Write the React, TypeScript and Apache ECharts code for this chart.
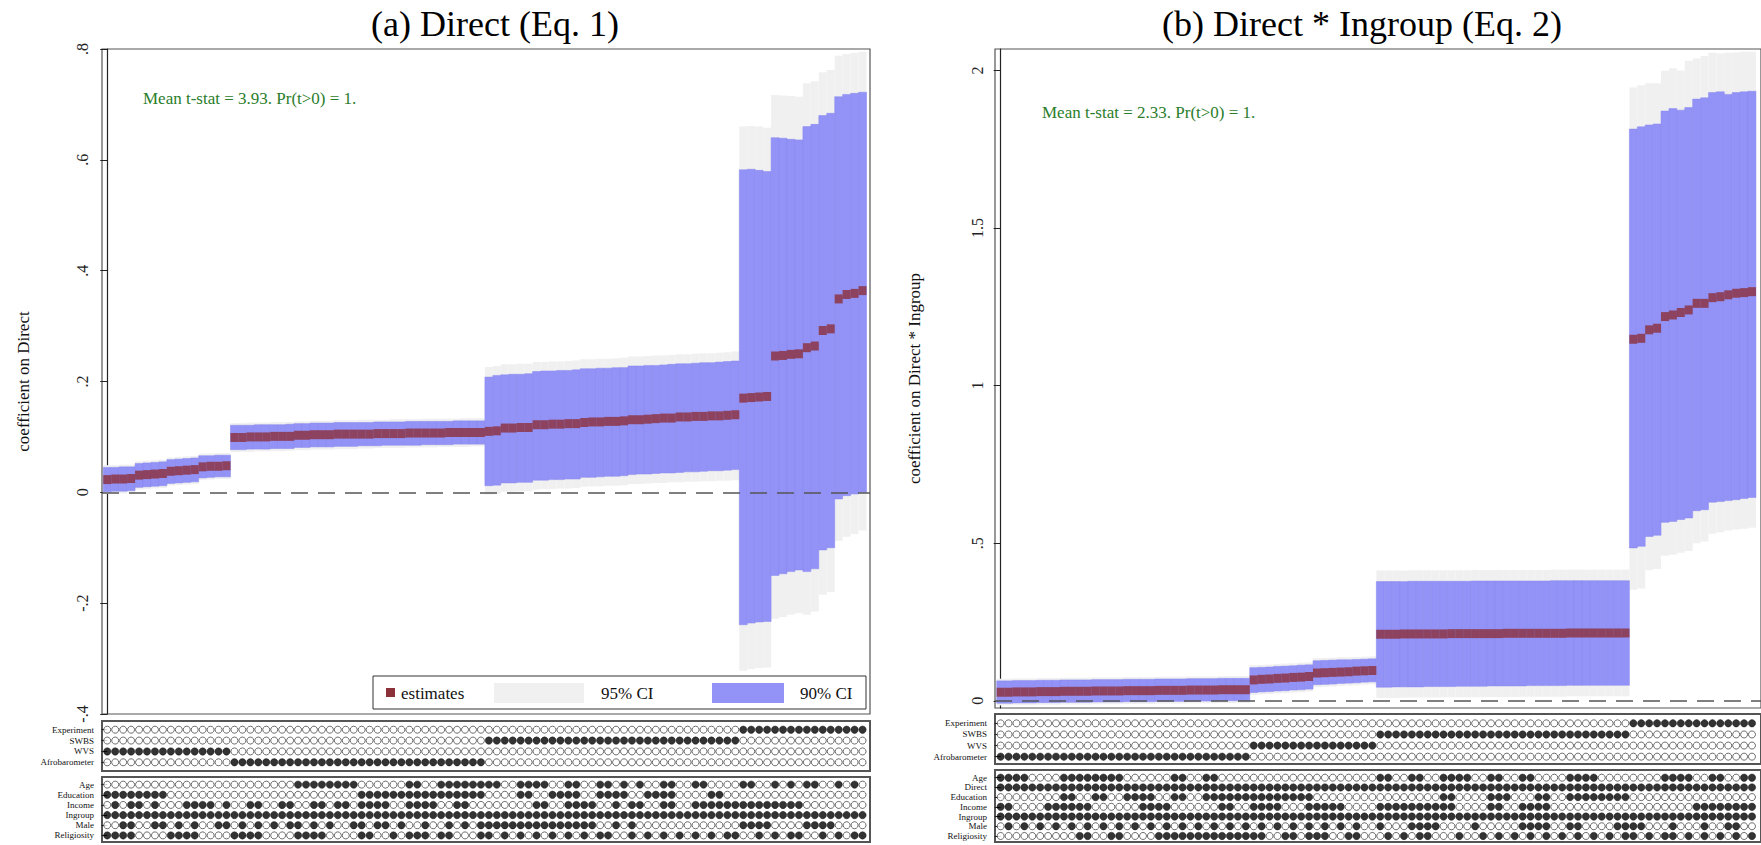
import React, { useEffect, useRef } from "react";
import * as echarts from "echarts";

const FONT = "'Liberation Serif', 'DejaVu Serif', serif";

// ---------------- Panel (a): Direct (Eq. 1) ----------------
const estA = [
  0.023, 0.024, 0.024, 0.025, 0.031, 0.032, 0.033, 0.034, 0.038, 0.039, 0.040, 0.041, 0.046, 0.047, 0.047, 0.048,
  0.099, 0.099, 0.100, 0.100, 0.100, 0.101, 0.101, 0.101, 0.103, 0.103, 0.104, 0.104, 0.104, 0.105, 0.105, 0.105,
  0.105, 0.105, 0.106, 0.106, 0.106, 0.106, 0.107, 0.107, 0.107, 0.107, 0.107, 0.108, 0.108, 0.108, 0.108, 0.108,
  0.110, 0.111, 0.116, 0.116, 0.117, 0.117, 0.122, 0.122, 0.123, 0.123, 0.124, 0.124, 0.126, 0.127, 0.127, 0.128,
  0.128, 0.129, 0.131, 0.131, 0.132, 0.133, 0.134, 0.134, 0.136, 0.136, 0.137, 0.137, 0.138, 0.138, 0.139, 0.140,
  0.170, 0.171, 0.172, 0.173, 0.246, 0.247, 0.249, 0.250, 0.261, 0.264, 0.292, 0.295, 0.349, 0.357, 0.359, 0.364,
];
const hi90A = [
  0.045, 0.045, 0.046, 0.046, 0.052, 0.053, 0.054, 0.055, 0.059, 0.060, 0.061, 0.062, 0.066, 0.066, 0.067, 0.067,
  0.121, 0.121, 0.121, 0.122, 0.122, 0.122, 0.122, 0.123, 0.124, 0.124, 0.125, 0.125, 0.125, 0.126, 0.126, 0.126,
  0.126, 0.126, 0.127, 0.127, 0.127, 0.127, 0.128, 0.128, 0.128, 0.128, 0.128, 0.128, 0.129, 0.129, 0.129, 0.129,
  0.208, 0.211, 0.212, 0.213, 0.213, 0.214, 0.218, 0.219, 0.219, 0.220, 0.220, 0.221, 0.223, 0.223, 0.224, 0.224,
  0.225, 0.225, 0.228, 0.228, 0.229, 0.229, 0.230, 0.231, 0.232, 0.232, 0.233, 0.234, 0.234, 0.235, 0.236, 0.237,
  0.582, 0.583, 0.581, 0.579, 0.640, 0.639, 0.637, 0.636, 0.660, 0.664, 0.680, 0.684, 0.714, 0.718, 0.720, 0.722,
];
const lo90A = [
  0.001, 0.002, 0.002, 0.003, 0.009, 0.010, 0.011, 0.012, 0.016, 0.017, 0.018, 0.019, 0.026, 0.027, 0.028, 0.028,
  0.077, 0.077, 0.078, 0.078, 0.078, 0.079, 0.079, 0.079, 0.081, 0.081, 0.082, 0.082, 0.082, 0.083, 0.083, 0.083,
  0.084, 0.084, 0.084, 0.085, 0.085, 0.085, 0.085, 0.085, 0.086, 0.086, 0.086, 0.086, 0.087, 0.087, 0.087, 0.087,
  0.012, 0.013, 0.017, 0.017, 0.018, 0.018, 0.022, 0.022, 0.023, 0.023, 0.024, 0.024, 0.027, 0.027, 0.028, 0.029,
  0.029, 0.030, 0.032, 0.033, 0.033, 0.034, 0.035, 0.035, 0.036, 0.037, 0.037, 0.038, 0.039, 0.039, 0.040, 0.041,
  -0.239, -0.236, -0.234, -0.233, -0.150, -0.147, -0.143, -0.140, -0.143, -0.138, -0.104, -0.100, -0.012, -0.006, -0.003, 0.000,
];
const hi95A = [
  0.049, 0.049, 0.050, 0.050, 0.056, 0.057, 0.058, 0.059, 0.063, 0.064, 0.065, 0.066, 0.070, 0.070, 0.071, 0.071,
  0.125, 0.125, 0.126, 0.126, 0.126, 0.127, 0.127, 0.127, 0.128, 0.128, 0.129, 0.129, 0.129, 0.130, 0.130, 0.130,
  0.131, 0.131, 0.131, 0.131, 0.132, 0.132, 0.132, 0.132, 0.133, 0.133, 0.133, 0.133, 0.133, 0.134, 0.134, 0.134,
  0.226, 0.228, 0.231, 0.231, 0.232, 0.232, 0.235, 0.235, 0.236, 0.236, 0.237, 0.238, 0.240, 0.240, 0.241, 0.241,
  0.242, 0.243, 0.245, 0.245, 0.246, 0.247, 0.247, 0.248, 0.249, 0.249, 0.250, 0.251, 0.251, 0.252, 0.253, 0.254,
  0.660, 0.661, 0.660, 0.658, 0.717, 0.716, 0.715, 0.714, 0.738, 0.742, 0.758, 0.762, 0.788, 0.791, 0.793, 0.795,
];
const lo95A = [
  -0.003, -0.002, -0.002, -0.001, 0.005, 0.006, 0.007, 0.008, 0.012, 0.013, 0.014, 0.015, 0.022, 0.023, 0.024, 0.024,
  0.073, 0.073, 0.073, 0.074, 0.074, 0.074, 0.074, 0.075, 0.076, 0.076, 0.077, 0.077, 0.077, 0.078, 0.078, 0.078,
  0.079, 0.079, 0.080, 0.080, 0.080, 0.080, 0.081, 0.081, 0.081, 0.081, 0.082, 0.082, 0.082, 0.082, 0.083, 0.083,
  -0.004, -0.003, 0.001, 0.001, 0.002, 0.002, 0.005, 0.006, 0.006, 0.007, 0.007, 0.008, 0.010, 0.011, 0.011, 0.012,
  0.012, 0.013, 0.015, 0.015, 0.016, 0.017, 0.017, 0.018, 0.018, 0.019, 0.019, 0.020, 0.020, 0.021, 0.021, 0.022,
  -0.322, -0.319, -0.317, -0.316, -0.228, -0.225, -0.221, -0.218, -0.221, -0.215, -0.185, -0.180, -0.088, -0.080, -0.075, -0.069,
];

const dataRowsA = ["Experiment", "SWBS", "WVS", "Afrobarometer"];
const dataBitsA = [
  "00000000 00000000 00000000 00000000 00000000 00000000 00000000 00000000 00000000 00000000 11111111 11111111",
  "00000000 00000000 00000000 00000000 00000000 00000000 11111111 11111111 11111111 11111111 00000000 00000000",
  "11111111 11111111 00000000 00000000 00000000 00000000 00000000 00000000 00000000 00000000 00000000 00000000",
  "00000000 00000000 11111111 11111111 11111111 11111111 00000000 00000000 00000000 00000000 00000000 00000000",
];
const ctrlRowsA = ["Age", "Education", "Income", "Ingroup", "Male", "Religiosity"];
const ctrlBitsA = [
  "00000000 00000000 00000000 11111111 00000011 00111111 11001111 00110011 01010011 00110000 11001010 11001010",
  "11111111 00000000 00000000 00000000 11111111 11111111 00001100 11110011 11001111 00001100 00000000 00000000",
  "01011010 00111101 00110011 00110110 11110011 11001100 00000011 00111100 10110011 00111111 11111111 00000000",
  "11111111 11111111 11111111 11111111 11111111 11111111 11111111 11111111 11111111 11111111 11111111 11111111",
  "00110011 01010011 01010101 10101001 10110100 10010101 11111111 11111100 10100000 00000000 11110000 11110000",
  "11110000 11110000 11110000 11110000 11001011 10110001 10101010 10101011 00101010 10101011 00101011 00101011",
];

// ---------------- Panel (b): Direct * Ingroup (Eq. 2) ----------------
const estB = [
  0.027, 0.027, 0.028, 0.028, 0.028, 0.029, 0.029, 0.029, 0.030, 0.030, 0.030, 0.030, 0.031, 0.031, 0.031, 0.031,
  0.032, 0.032, 0.032, 0.032, 0.033, 0.033, 0.033, 0.033, 0.034, 0.034, 0.034, 0.034, 0.035, 0.035, 0.035, 0.035,
  0.066, 0.068, 0.069, 0.071, 0.072, 0.074, 0.075, 0.077, 0.088, 0.089, 0.090, 0.091, 0.092, 0.094, 0.095, 0.096,
  0.211, 0.211, 0.211, 0.212, 0.212, 0.212, 0.212, 0.212, 0.212, 0.213, 0.213, 0.213, 0.213, 0.213, 0.213, 0.213,
  0.214, 0.214, 0.214, 0.214, 0.214, 0.214, 0.214, 0.214, 0.215, 0.215, 0.215, 0.215, 0.215, 0.215, 0.215, 0.215,
  1.147, 1.150, 1.177, 1.182, 1.219, 1.224, 1.232, 1.240, 1.261, 1.261, 1.279, 1.282, 1.288, 1.293, 1.295, 1.298,
];
const hi90B = [
  0.063, 0.063, 0.064, 0.064, 0.064, 0.065, 0.065, 0.065, 0.066, 0.066, 0.066, 0.066, 0.067, 0.067, 0.067, 0.067,
  0.068, 0.068, 0.068, 0.068, 0.069, 0.069, 0.069, 0.069, 0.070, 0.070, 0.070, 0.070, 0.071, 0.071, 0.071, 0.071,
  0.105, 0.106, 0.107, 0.109, 0.110, 0.111, 0.113, 0.114, 0.127, 0.128, 0.129, 0.130, 0.130, 0.131, 0.132, 0.133,
  0.378, 0.378, 0.378, 0.378, 0.379, 0.379, 0.379, 0.379, 0.379, 0.379, 0.379, 0.379, 0.380, 0.380, 0.380, 0.380,
  0.380, 0.380, 0.380, 0.380, 0.380, 0.380, 0.381, 0.381, 0.381, 0.381, 0.381, 0.381, 0.381, 0.381, 0.381, 0.381,
  1.814, 1.821, 1.827, 1.830, 1.871, 1.879, 1.874, 1.882, 1.909, 1.913, 1.930, 1.932, 1.924, 1.930, 1.932, 1.934,
];
const lo90B = [
  -0.008, -0.008, -0.007, -0.007, -0.007, -0.006, -0.006, -0.006, -0.005, -0.005, -0.005, -0.005, -0.004, -0.004, -0.004, -0.004,
  -0.003, -0.003, -0.003, -0.003, -0.002, -0.002, -0.002, -0.002, -0.001, -0.001, -0.001, -0.001, 0.000, 0.000, 0.000, 0.000,
  0.026, 0.028, 0.029, 0.031, 0.032, 0.034, 0.035, 0.037, 0.051, 0.052, 0.053, 0.055, 0.056, 0.057, 0.059, 0.060,
  0.043, 0.043, 0.044, 0.044, 0.044, 0.044, 0.045, 0.045, 0.045, 0.045, 0.046, 0.046, 0.046, 0.046, 0.047, 0.047,
  0.047, 0.047, 0.047, 0.048, 0.048, 0.048, 0.048, 0.048, 0.049, 0.049, 0.049, 0.049, 0.049, 0.049, 0.049, 0.049,
  0.485, 0.490, 0.521, 0.525, 0.566, 0.569, 0.575, 0.580, 0.603, 0.606, 0.630, 0.632, 0.635, 0.638, 0.642, 0.645,
];
const hi95B = [
  0.070, 0.070, 0.071, 0.071, 0.071, 0.072, 0.072, 0.072, 0.073, 0.073, 0.073, 0.073, 0.074, 0.074, 0.074, 0.074,
  0.075, 0.075, 0.075, 0.075, 0.076, 0.076, 0.076, 0.076, 0.077, 0.077, 0.077, 0.077, 0.078, 0.078, 0.078, 0.078,
  0.113, 0.114, 0.115, 0.117, 0.118, 0.119, 0.121, 0.122, 0.135, 0.136, 0.137, 0.138, 0.138, 0.139, 0.140, 0.141,
  0.413, 0.413, 0.413, 0.413, 0.414, 0.414, 0.414, 0.414, 0.414, 0.414, 0.414, 0.414, 0.415, 0.415, 0.415, 0.415,
  0.415, 0.415, 0.415, 0.415, 0.415, 0.415, 0.416, 0.416, 0.416, 0.416, 0.416, 0.416, 0.416, 0.416, 0.416, 0.416,
  1.946, 1.953, 1.959, 1.959, 1.999, 2.007, 2.000, 2.031, 2.038, 2.046, 2.056, 2.054, 2.056, 2.057, 2.059, 2.059,
];
const lo95B = [
  -0.015, -0.015, -0.014, -0.014, -0.014, -0.013, -0.013, -0.013, -0.012, -0.012, -0.012, -0.012, -0.011, -0.011, -0.011, -0.011,
  -0.010, -0.010, -0.010, -0.010, -0.009, -0.009, -0.009, -0.009, -0.008, -0.008, -0.008, -0.008, -0.007, -0.007, -0.007, -0.007,
  0.018, 0.020, 0.021, 0.023, 0.024, 0.026, 0.027, 0.029, 0.043, 0.044, 0.045, 0.047, 0.048, 0.049, 0.051, 0.052,
  0.009, 0.009, 0.009, 0.010, 0.010, 0.010, 0.010, 0.010, 0.011, 0.011, 0.011, 0.011, 0.011, 0.012, 0.012, 0.012,
  0.012, 0.012, 0.013, 0.013, 0.013, 0.013, 0.013, 0.013, 0.014, 0.014, 0.014, 0.014, 0.014, 0.014, 0.014, 0.014,
  0.352, 0.356, 0.414, 0.418, 0.460, 0.463, 0.470, 0.475, 0.500, 0.505, 0.530, 0.535, 0.540, 0.543, 0.546, 0.549,
];

const dataRowsB = ["Experiment", "SWBS", "WVS", "Afrobarometer"];
const dataBitsB = [
  "00000000 00000000 00000000 00000000 00000000 00000000 00000000 00000000 00000000 00000000 11111111 11111111",
  "00000000 00000000 00000000 00000000 00000000 00000000 11111111 11111111 11111111 11111111 00000000 00000000",
  "00000000 00000000 00000000 00000000 11111111 11111111 00000000 00000000 00000000 00000000 00000000 00000000",
  "11111111 11111111 11111111 11111111 00000000 00000000 00000000 00000000 00000000 00000000 00000000 00000000",
];
const ctrlRowsB = ["Age", "Direct", "Education", "Income", "Ingroup", "Male", "Religiosity"];
const ctrlBitsB = [
  "11110000 11111111 00000011 00110000 00000000 00000000 11001100 11110011 00110000 11110000 00001111 00110011",
  "11111111 11111111 11111111 11111111 11111111 11111111 11111111 11111111 11111111 11111111 11111111 11111111",
  "00000000 11001100 11110011 00111111 11111111 00000000 00000000 11000011 10001100 11111111 00000000 00000000",
  "11000011 11110000 00111100 00001100 11110001 11110000 11111111 11000011 00111100 00000000 00000000 11111111",
  "11111111 11111111 11111111 11111111 11111111 11111111 11111111 11111111 11111111 11111111 11111111 11111111",
  "01010101 01010101 01010101 01010101 01010101 01010100 10001111 00001000 00111100 11000011 11000100 01001100",
  "00000000 00110011 00001111 11111111 11001101 11001100 01010110 00100101 01010101 01010101 10101101 01010101",
];

const titleA = "(a) Direct (Eq. 1)";
const titleB = "(b) Direct * Ingroup (Eq. 2)";
const noteA = "Mean t-stat = 3.93. Pr(t>0) = 1.";
const noteB = "Mean t-stat = 2.33. Pr(t>0) = 1.";
const yNameA = "coefficient on Direct";
const yNameB = "coefficient on Direct * Ingroup";
const ticksB = [0, 0.5, 1, 1.5, 2];
const legendNames = ["estimates", "95% CI", "90% CI"];

const RED = "#8C303A";
const BLUE = "#9393F7";
const GRAY = "#F0F0F0";

function parseBits(s: string): number[] {
  return s.replace(/\s/g, "").split("").map((ch) => (ch === "1" ? 1 : 0));
}

function ciSeries(ax: number, lo: number[], hi: number[], fill: string, stroke: string | null, z: number) {
  return {
    type: "custom",
    xAxisIndex: ax,
    yAxisIndex: ax,
    z,
    silent: true,
    clip: true,
    data: lo.map((l, i) => [i, l, hi[i]]),
    encode: { x: 0, y: [1, 2] },
    renderItem: (_p: any, api: any) => {
      const c = api.value(0);
      const p1 = api.coord([c - 0.5, api.value(2)]);
      const p2 = api.coord([c + 0.5, api.value(1)]);
      return {
        type: "rect",
        shape: { x: p1[0], y: p1[1], width: p2[0] - p1[0], height: p2[1] - p1[1] },
        style: stroke ? { fill, stroke, lineWidth: 0.5 } : { fill },
      };
    },
  };
}

function dotSeries(ax: number, rows: string[]) {
  const filled: number[][] = [];
  const empty: number[][] = [];
  rows.forEach((s, r) => {
    parseBits(s).forEach((b, c) => {
      (b ? filled : empty).push([c, r]);
    });
  });
  return [
    {
      type: "scatter",
      xAxisIndex: ax,
      yAxisIndex: ax,
      symbol: "circle",
      symbolSize: 7.4,
      silent: true,
      data: filled,
      itemStyle: { color: "#000", borderColor: "#000", borderWidth: 0.5 },
    },
    {
      type: "scatter",
      xAxisIndex: ax,
      yAxisIndex: ax,
      symbol: "circle",
      symbolSize: 7.0,
      silent: true,
      data: empty,
      itemStyle: { color: "#fff", borderColor: "#333", borderWidth: 0.9 },
    },
  ];
}

function estSeries(ax: number, est: number[]) {
  return {
    type: "scatter",
    xAxisIndex: ax,
    yAxisIndex: ax,
    symbol: "rect",
    symbolSize: [8, 9],
    z: 6,
    silent: true,
    data: est.map((v, i) => [i, v]),
    itemStyle: { color: RED },
    markLine: {
      silent: true,
      symbol: ["none", "none"],
      label: { show: false },
      lineStyle: { type: [17, 10], color: "#555", width: 1.6 },
      data: [{ yAxis: 0 }],
    },
  };
}

const fmtA = (v: number) => {
  const r = Math.round(v * 10) / 10;
  if (r === 0) return "0";
  return (r < 0 ? "-" : "") + String(Math.abs(r)).replace(/^0/, "");
};
const fmtB = (v: number) => {
  const r = Math.round(v * 10) / 10;
  if (r === 0) return "0";
  return String(r).replace(/^0/, "");
};

function matrixY(grid: number, names: string[], min: number, max: number) {
  const vals = names.map((_, i) => i);
  return {
    gridIndex: grid,
    type: "value",
    inverse: true,
    min,
    max,
    axisLine: { show: false },
    splitLine: { show: false },
    axisTick: { show: true, length: 6, customValues: vals, lineStyle: { color: "#222", width: 1 } },
    axisLabel: {
      customValues: vals,
      formatter: (v: number) => names[Math.round(v)] ?? "",
      fontFamily: FONT,
      fontSize: 9,
      color: "#111",
      margin: 8,
    },
  };
}

function buildOption() {
  const gridStyleMain = { show: true, borderColor: "#555", borderWidth: 1.2, backgroundColor: "transparent" };
  const gridStyleMat = { show: true, borderColor: "#555", borderWidth: 2, backgroundColor: "transparent" };
  const xA = { min: -0.66, max: 95.94 };
  const xB = { min: -0.714, max: 96.14 };
  const xAxis = [0, 1, 2, 3, 4, 5].map((g) => ({
    gridIndex: g,
    type: "value",
    show: false,
    ...(g < 3 ? xA : xB),
  }));

  const mainLabel = { rotate: 90, fontFamily: FONT, fontSize: 16, color: "#222" };
  const nameStyle = { fontFamily: FONT, fontSize: 17, color: "#111" };
  const yAxis = [
    {
      gridIndex: 0,
      type: "value",
      min: -0.4,
      max: 0.8,
      interval: 0.2,
      name: yNameA,
      nameLocation: "middle",
      nameRotate: 90,
      nameGap: 70,
      nameTextStyle: nameStyle,
      axisLine: { show: true, lineStyle: { color: "#222", width: 1.2 } },
      axisTick: { show: true, length: 7, lineStyle: { color: "#222" } },
      axisLabel: { ...mainLabel, margin: 12, formatter: fmtA },
      splitLine: { show: false },
    },
    matrixY(1, dataRowsA, -0.8, 3.8),
    matrixY(2, ctrlRowsA, -0.75, 5.65),
    {
      gridIndex: 3,
      type: "value",
      min: -0.023,
      max: 2.068,
      name: yNameB,
      nameLocation: "middle",
      nameRotate: 90,
      nameGap: 72,
      nameTextStyle: nameStyle,
      axisLine: { show: true, lineStyle: { color: "#222", width: 1.2 } },
      axisTick: { show: true, length: 7, customValues: ticksB, lineStyle: { color: "#222" } },
      axisLabel: { ...mainLabel, margin: 10, customValues: ticksB, formatter: fmtB },
      splitLine: { show: false },
    },
    matrixY(4, dataRowsB, -0.84, 3.66),
    matrixY(5, ctrlRowsB, -0.79, 6.62),
  ];

  const series: any[] = [
    ciSeries(0, lo95A, hi95A, GRAY, null, 2),
    ciSeries(0, lo90A, hi90A, BLUE, "#8686EE", 3),
    estSeries(0, estA),
    ...dotSeries(1, dataBitsA),
    ...dotSeries(2, ctrlBitsA),
    ciSeries(3, lo95B, hi95B, GRAY, null, 2),
    ciSeries(3, lo90B, hi90B, BLUE, "#8686EE", 3),
    estSeries(3, estB),
    ...dotSeries(4, dataBitsB),
    ...dotSeries(5, ctrlBitsB),
  ];

  const txt = (text: string, x: number, y: number, size: number, fill: string, align = "left") => ({
    type: "text",
    x,
    y,
    z: 100,
    silent: true,
    style: {
      text,
      fontFamily: FONT,
      fontSize: size,
      fill,
      textAlign: align,
      textVerticalAlign: "middle",
    },
  });

  const graphic = [
    txt(titleA, 495, 24, 36, "#000", "center"),
    txt(titleB, 1362, 24, 36, "#000", "center"),
    txt(noteA, 143, 98, 17, "#2A7D2A"),
    txt(noteB, 1042, 112, 17, "#2A7D2A"),
    {
      type: "rect",
      z: 99,
      silent: true,
      shape: { x: 373, y: 676, width: 493, height: 33 },
      style: { fill: "#fff", stroke: "#333", lineWidth: 1 },
    },
    {
      type: "rect",
      z: 100,
      silent: true,
      shape: { x: 386, y: 688, width: 9, height: 9 },
      style: { fill: RED },
    },
    txt(legendNames[0], 401, 693, 17, "#111"),
    {
      type: "rect",
      z: 100,
      silent: true,
      shape: { x: 494, y: 683, width: 90, height: 20 },
      style: { fill: GRAY },
    },
    txt(legendNames[1], 601, 693, 17, "#111"),
    {
      type: "rect",
      z: 100,
      silent: true,
      shape: { x: 712, y: 683, width: 72, height: 20 },
      style: { fill: BLUE },
    },
    txt(legendNames[2], 800, 693, 17, "#111"),
  ];

  return {
    animation: false,
    backgroundColor: "#fff",
    grid: [
      { left: 102, top: 49, width: 768, height: 665, ...gridStyleMain },
      { left: 102, top: 721, width: 768, height: 50, ...gridStyleMat },
      { left: 102, top: 777, width: 768, height: 65, ...gridStyleMat },
      { left: 995, top: 49, width: 770, height: 659, ...gridStyleMain },
      { left: 995, top: 714, width: 770, height: 50, ...gridStyleMat },
      { left: 995, top: 770, width: 770, height: 72, ...gridStyleMat },
    ],
    xAxis,
    yAxis,
    series,
    graphic,
  };
}

export default function App() {
  const ref = useRef<HTMLDivElement>(null);
  useEffect(() => {
    if (!ref.current) return;
    const chart = echarts.init(ref.current, null, { renderer: "svg" });
    chart.setOption(buildOption() as any);
    return () => chart.dispose();
  }, []);
  return (
    <div
      ref={ref}
      style={{ position: "fixed", left: 0, top: 0, width: 1761, height: 845, background: "#fff" }}
    />
  );
}
